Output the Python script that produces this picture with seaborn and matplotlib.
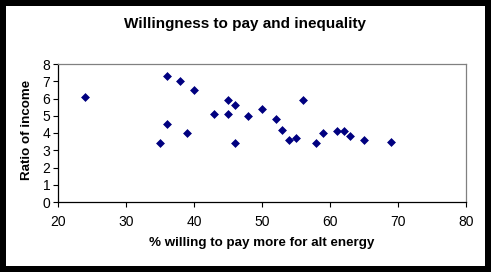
import matplotlib
matplotlib.use("Agg")
import matplotlib.pyplot as plt
from matplotlib.patches import Rectangle
import seaborn as sns
import pandas as pd

willing = [24, 36, 38, 40, 45, 46, 43, 45, 48, 50, 36, 39, 35, 46,
           52, 53, 54, 55, 56, 58, 59, 61, 62, 63, 65, 69]
ratio = [6.1, 7.3, 7.0, 6.5, 5.9, 5.65, 5.1, 5.1, 5.0, 5.4, 4.5, 4.0, 3.4, 3.4,
         4.8, 4.2, 3.6, 3.7, 5.9, 3.4, 4.0, 4.1, 4.1, 3.85, 3.6, 3.5]
x_ticks = [20, 30, 40, 50, 60, 70, 80]
y_ticks = [0, 1, 2, 3, 4, 5, 6, 7, 8]

title = "Willingness to pay and inequality"
xlabel = "% willing to pay more for alt energy"
ylabel = "Ratio of income"

df = pd.DataFrame({"willing": willing, "ratio": ratio})

sns.set_style("white")
plt.rcParams["font.family"] = ["Liberation Sans", "DejaVu Sans"]
plt.rcParams["text.color"] = "black"
plt.rcParams["xtick.color"] = "black"
plt.rcParams["ytick.color"] = "black"
plt.rcParams["axes.labelcolor"] = "black"

W, H = 491, 272
fig = plt.figure(figsize=(W / 100, H / 100), dpi=100)
fig.patch.set_facecolor("black")
fig.add_artist(Rectangle((6 / W, 6 / H), (W - 12) / W, (H - 12) / H,
                         transform=fig.transFigure, facecolor="white",
                         edgecolor="none", zorder=0))

ax = fig.add_axes([58 / W, (H - 202) / H, (466 - 58) / W, (202 - 64) / H])
ax.set_facecolor("white")
sns.scatterplot(data=df, x="willing", y="ratio", ax=ax, marker="D", s=16,
                color="#000080", edgecolor="#000080", linewidth=0.5, zorder=3)

ax.set_xlim(20, 80)
ax.set_ylim(0, 8)
ax.set_xticks(x_ticks)
ax.set_yticks(y_ticks)
ax.set_xticklabels([str(t) for t in x_ticks], fontsize=10, color="black")
ax.set_yticklabels([str(t) for t in y_ticks], fontsize=10, color="black")
ax.tick_params(axis="both", direction="out", length=3.5, width=0.8,
               color="black", pad=2, bottom=True, left=True)
ax.tick_params(axis="x", pad=6)
for s in ["left", "bottom"]:
    ax.spines[s].set_color("black")
    ax.spines[s].set_linewidth(0.9)
for s in ["top", "right"]:
    ax.spines[s].set_color("#808080")
    ax.spines[s].set_linewidth(0.9)
ax.set_xlabel("")
ax.set_ylabel("")

fig.text(0.5, 1 - 24 / H, title, ha="center", va="center", fontsize=11,
         fontweight="bold", color="black")
fig.text(262 / W, 1 - 243 / H, xlabel, ha="center", va="center",
         fontsize=9.6, fontweight="bold", color="black")
fig.text(27 / W, 1 - 130 / H, ylabel, ha="center", va="center",
         fontsize=9.6, fontweight="bold", rotation=90, color="black")

fig.savefig("out.png", dpi=100, facecolor="black")
